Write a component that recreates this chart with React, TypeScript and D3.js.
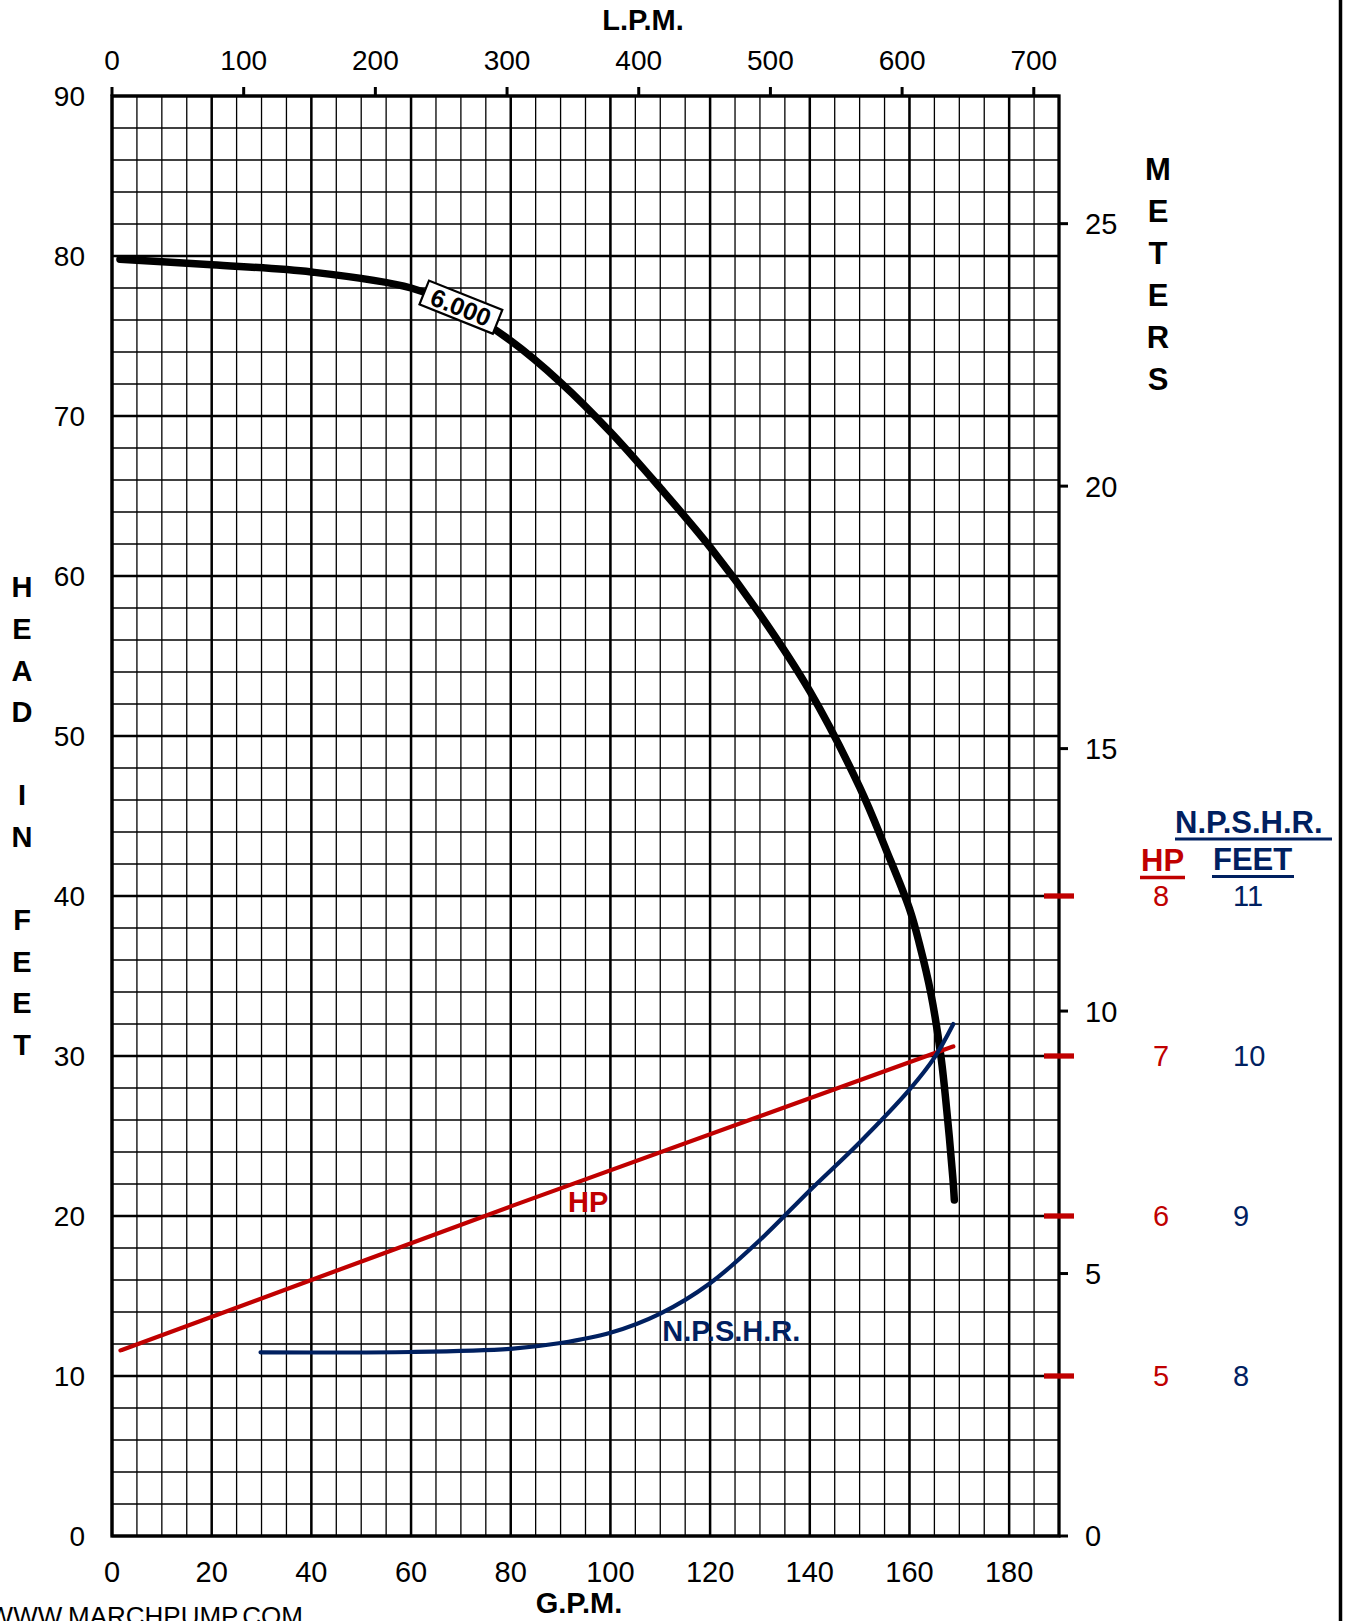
import React from "react";
import * as d3 from "d3";

// ---- data ----
const gpmTicks = [0, 20, 40, 60, 80, 100, 120, 140, 160, 180];
const lpmTicks = [0, 100, 200, 300, 400, 500, 600, 700];
const feetTicks = [0, 10, 20, 30, 40, 50, 60, 70, 80, 90];
const meterTicks = [0, 5, 10, 15, 20, 25];
const hpTicks = [5, 6, 7, 8];
const npshrTicks = [8, 9, 10, 11];

const headGpm = [1.6, 20, 40, 60, 70, 80, 90, 100, 110, 120, 130, 140, 150, 155.3, 160, 162, 164.3, 166.3, 167.7, 168.7, 169];
const headFeet = [79.8, 79.45, 79.0, 78.0, 76.7, 74.7, 72.1, 69.0, 65.5, 61.8, 57.6, 52.8, 46.8, 42.9, 39.2, 37.0, 33.9, 30.0, 25.9, 22.4, 21.0];

const hpGpm = [1.7, 40, 80, 168.8];
const hpValues = [5.16, 5.6, 6.06, 7.06];

const npshrGpm = [29.8, 60, 80, 90, 100, 110, 120, 130, 140, 150, 160, 165, 168.8];
const npshrFeet = [8.148, 8.15, 8.17, 8.206, 8.27, 8.39, 8.58, 8.85, 9.16, 9.46, 9.79, 9.99, 10.2];

const speedLabel = "6.000";
const speedLabelGpm = 70;
const speedLabelFeet = 76.8;

const FONT = "'Liberation Sans', Arial, Helvetica, sans-serif";
const RED = "#C00000";
const NAVY = "#002060";

export default function App() {
  const W = 1349, H = 1621;
  const L = 112, R = 1059, T = 96, B = 1536;
  const GPM_MAX = 190, FT_MAX = 90;

  const x = d3.scaleLinear().domain([0, GPM_MAX]).range([L, R]);
  const y = d3.scaleLinear().domain([0, FT_MAX]).range([B, T]);
  const xL = d3.scaleLinear().domain([0, GPM_MAX * 3.785]).range([L, R]);
  const yM = d3.scaleLinear().domain([0, FT_MAX * 0.3048]).range([B, T]);
  const yHP = d3.scaleLinear().domain([4, 4 + FT_MAX / 10]).range([B, T]);
  const yN = d3.scaleLinear().domain([7, 7 + FT_MAX / 10]).range([B, T]);

  const vMinor = d3.range(0, GPM_MAX + 0.01, 5);
  const hMinor = d3.range(0, FT_MAX + 0.01, 2);

  const headLine = d3
    .line<number>()
    .x((d) => x(headGpm[d]))
    .y((d) => y(headFeet[d]))
    .curve(d3.curveCatmullRom.alpha(0.5));
  const hpLine = d3
    .line<number>()
    .x((d) => x(hpGpm[d]))
    .y((d) => yHP(hpValues[d]))
    .curve(d3.curveMonotoneX);
  const npLine = d3
    .line<number>()
    .x((d) => x(npshrGpm[d]))
    .y((d) => yN(npshrFeet[d]))
    .curve(d3.curveCatmullRom.alpha(0.5));

  const headLetters = ["H", "E", "A", "D", "", "I", "N", "", "F", "E", "E", "T"];
  const meterLetters = ["M", "E", "T", "E", "R", "S"];

  return (
    <svg
      width={W}
      height={H}
      viewBox={`0 0 ${W} ${H}`}
      style={{ position: "absolute", left: 0, top: 0, background: "#fff" }}
      fontFamily={FONT}
    >
      <rect x={0} y={0} width={W} height={H} fill="#fff" />
      {/* minor grid */}
      <g stroke="#000" strokeWidth={1.3}>
        {vMinor.map((v) => (
          <line key={"vm" + v} x1={x(v)} x2={x(v)} y1={T} y2={B} />
        ))}
        {hMinor.map((v) => (
          <line key={"hm" + v} x1={L} x2={R} y1={y(v)} y2={y(v)} />
        ))}
      </g>
      {/* major grid */}
      <g stroke="#000" strokeWidth={2.5}>
        {gpmTicks.map((v) => (
          <line key={"vM" + v} x1={x(v)} x2={x(v)} y1={T} y2={B} />
        ))}
        {feetTicks.map((v) => (
          <line key={"hM" + v} x1={L} x2={R} y1={y(v)} y2={y(v)} />
        ))}
      </g>
      {/* frame */}
      <rect x={L} y={T} width={R - L} height={B - T} fill="none" stroke="#000" strokeWidth={3.3} />

      {/* LPM ticks (top) */}
      <g stroke="#000" strokeWidth={3}>
        {lpmTicks.map((v) => (
          <line key={"lt" + v} x1={xL(v)} x2={xL(v)} y1={T} y2={T - 9} />
        ))}
      </g>
      <g fontSize={28} textAnchor="middle" fill="#000">
        {lpmTicks.map((v) => (
          <text key={"ll" + v} x={xL(v)} y={70}>
            {v}
          </text>
        ))}
      </g>
      <text x={643} y={30} fontSize={29} fontWeight="bold" textAnchor="middle">
        L.P.M.
      </text>

      {/* GPM labels (bottom) */}
      <g fontSize={29} textAnchor="middle" fill="#000">
        {gpmTicks.map((v) => (
          <text key={"gl" + v} x={x(v)} y={1582}>
            {v}
          </text>
        ))}
      </g>
      <text x={579} y={1613} fontSize={29} fontWeight="bold" textAnchor="middle">
        G.P.M.
      </text>
      <text x={303} y={1625} fontSize={26} textAnchor="end">
        WWW.MARCHPUMP.COM
      </text>

      {/* Feet labels (left) */}
      <g fontSize={28} textAnchor="end" fill="#000">
        {feetTicks.map((v) => (
          <text key={"fl" + v} x={85} y={y(v)} dy="0.35em">
            {v}
          </text>
        ))}
      </g>
      <g fontSize={29} fontWeight="bold" textAnchor="middle">
        {headLetters.map((c, i) => (
          <text key={"hl" + i} x={22} y={587 + i * 41.6} dy="0.36em">
            {c}
          </text>
        ))}
      </g>

      {/* Meters (right) */}
      <g stroke="#000" strokeWidth={3}>
        {meterTicks.map((v) => (
          <line key={"mt" + v} x1={R} x2={R + 9} y1={yM(v)} y2={yM(v)} />
        ))}
      </g>
      <g fontSize={29} fill="#000">
        {meterTicks.map((v) => (
          <text key={"ml" + v} x={1085} y={yM(v)} dy="0.36em">
            {v}
          </text>
        ))}
      </g>
      <g fontSize={31} fontWeight="bold" textAnchor="middle">
        {meterLetters.map((c, i) => (
          <text key={"mm" + i} x={1158} y={169 + i * 42} dy="0.36em">
            {c}
          </text>
        ))}
      </g>

      {/* HP / NPSHR scale ticks */}
      <g stroke={RED} strokeWidth={5.3}>
        {hpTicks.map((v) => (
          <line key={"ht" + v} x1={1044} x2={1074} y1={yHP(v)} y2={yHP(v)} />
        ))}
      </g>
      <g fontSize={29} fill={RED}>
        {hpTicks.map((v) => (
          <text key={"hpl" + v} x={1153} y={yHP(v)} dy="0.36em">
            {v}
          </text>
        ))}
      </g>
      <g fontSize={29} fill={NAVY}>
        {npshrTicks.map((v) => (
          <text key={"npl" + v} x={1233} y={yN(v)} dy="0.36em">
            {v}
          </text>
        ))}
      </g>
      <text x={1175} y={833} fontSize={31} fontWeight="bold" fill={NAVY}>
        N.P.S.H.R.
      </text>
      <line x1={1175} x2={1332} y1={839} y2={839} stroke={NAVY} strokeWidth={2.8} />
      <text x={1213} y={870} fontSize={31} fontWeight="bold" fill={NAVY}>
        FEET
      </text>
      <line x1={1212} x2={1294} y1={876.5} y2={876.5} stroke={NAVY} strokeWidth={3} />
      <text x={1141} y={871} fontSize={31} fontWeight="bold" fill={RED}>
        HP
      </text>
      <line x1={1140} x2={1185} y1={877.5} y2={877.5} stroke={RED} strokeWidth={3.3} />

      {/* curves */}
      <path
        d={headLine(d3.range(headGpm.length)) || ""}
        fill="none"
        stroke="#000"
        strokeWidth={7.5}
        strokeLinecap="round"
        strokeLinejoin="round"
      />
      <path
        d={hpLine(d3.range(hpGpm.length)) || ""}
        fill="none"
        stroke={RED}
        strokeWidth={4.2}
        strokeLinecap="round"
      />
      <path
        d={npLine(d3.range(npshrGpm.length)) || ""}
        fill="none"
        stroke={NAVY}
        strokeWidth={4.2}
        strokeLinecap="round"
      />

      {/* curve labels */}
      <text x={x(91.5)} y={y(20.25)} fontSize={29} fontWeight="bold" fill={RED}>
        HP
      </text>
      <text x={x(110.4)} y={y(12.19)} fontSize={29} fontWeight="bold" fill={NAVY}>
        N.P.S.H.R.
      </text>
      <g transform={`translate(${x(speedLabelGpm)},${y(speedLabelFeet)}) rotate(21.8)`}>
        <rect x={-39.5} y={-12.8} width={79} height={25.6} fill="#fff" stroke="#000" strokeWidth={2.2} />
        <text x={0} y={0} dy="0.36em" fontSize={25} fontWeight="bold" textAnchor="middle">
          {speedLabel}
        </text>
      </g>

      {/* right border */}
      <line x1={1340.5} x2={1340.5} y1={0} y2={H} stroke="#000" strokeWidth={3.5} />
    </svg>
  );
}
